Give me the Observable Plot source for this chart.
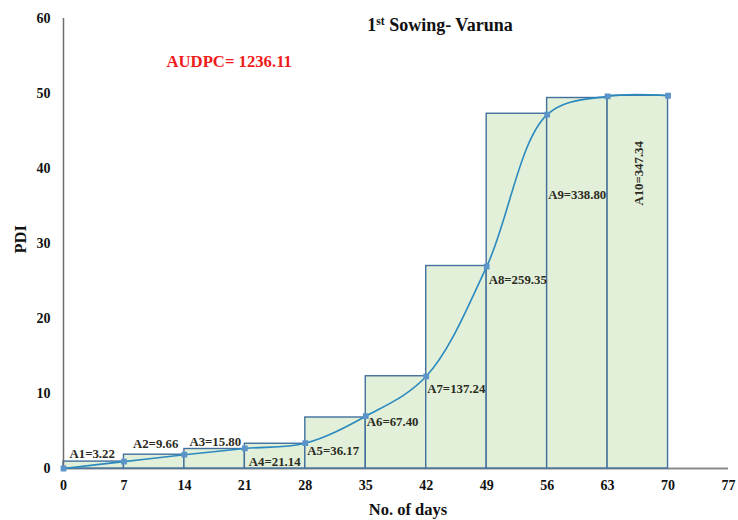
<!DOCTYPE html>
<html><head><meta charset="utf-8">
<script src="https://cdn.jsdelivr.net/npm/d3@7"></script>
<script src="https://cdn.jsdelivr.net/npm/@observablehq/plot@0.6"></script>
<style>body{margin:0;background:#fff}</style>
</head><body><div id="chart"></div>
<script>
// ---- data ----
const days = [0, 7, 14, 21, 28, 35, 42, 49, 56, 63, 70];
const pdi = [0, 0.92, 1.84, 2.67, 3.37, 6.97, 12.29, 26.92, 47.18, 49.62, 49.70];
const barTops = [0.92, 1.84, 2.6, 3.3, 6.8, 12.3, 27.0, 47.3, 49.4, 49.7];
const areaLabels = ["A1=3.22", "A2=9.66", "A3=15.80", "A4=21.14", "A5=36.17",
  "A6=67.40", "A7=137.24", "A8=259.35", "A9=338.80", "A10=347.34"];
const xTicks = [0, 7, 14, 21, 28, 35, 42, 49, 56, 63, 70, 77];
const yTicks = [0, 10, 20, 30, 40, 50, 60];
const titleText = ["1", "st", " Sowing- Varuna"];
const audpcText = "AUDPC= 1236.11";
const xLabel = "No. of days";
const yLabel = "PDI";

// ---- build tables ----
const bars = barTops.map((v, i) => ({x1: days[i], x2: days[i + 1], top: v}));
const points = days.map((d, i) => ({day: d, pdi: pdi[i]}));

// label placement (pixel offsets from the left point of each interval)
const labelStyle = [
  {dx: 6, dy: -15}, {dx: 9, dy: -18}, {dx: 5, dy: -13}, {dx: 4, dy: 13},
  {dx: 2, dy: 8}, {dx: 1, dy: 6}, {dx: 1, dy: 13}, {dx: 2, dy: 13},
  {dx: 1, dy: 80}, {dx: 31, dy: 77, rotate: -90, anchor: "middle"}
];

const serif = "'Liberation Serif', 'Times New Roman', serif";
const labelMarks = areaLabels.map((t, i) => {
  const s = labelStyle[i];
  return Plot.text([{day: days[i], pdi: pdi[i], t}], {
    x: "day", y: "pdi", text: "t",
    dx: s.dx, dy: s.dy, rotate: s.rotate || 0,
    textAnchor: s.anchor || "start", lineAnchor: "middle",
    fontSize: 12.8, fontWeight: "bold", fill: "#2b2b22", fontFamily: serif
  });
});

const chart = Plot.plot({
  width: 738, height: 520,
  marginLeft: 63, marginRight: 10, marginTop: 18, marginBottom: 52,
  style: {fontFamily: serif, fontWeight: "bold", fontSize: "14px", color: "#111", background: "#fff"},
  x: {domain: [0, 77]},
  y: {domain: [0, 60]},
  marks: [
    Plot.ruleY([0], {x1: 0, x2: 77, stroke: "#8a8a8a", strokeWidth: 2}),
    Plot.rect(bars, {x1: "x1", x2: "x2", y1: 0, y2: "top", fill: "#e2efd9", stroke: "#41719c", strokeWidth: 1.4}),
    Plot.ruleX([0], {y1: 0, y2: 60, stroke: "#6d6d6d", strokeWidth: 1.5}),
    Plot.line(points, {x: "day", y: "pdi", curve: "catmull-rom", stroke: "#2a8abf", strokeWidth: 1.6}),
    Plot.dot(points, {x: "day", y: "pdi", symbol: "square", r: 2.4, fill: "#5b94c8", stroke: "#5b94c8"}),
    Plot.axisX({ticks: xTicks, tickSize: 0, tickPadding: 12, label: null, fontSize: 14, fontWeight: "bold", fill: "#111"}),
    Plot.axisY({ticks: yTicks, tickSize: 0, tickPadding: 13, label: null, fontSize: 14, fontWeight: "bold", fill: "#111"}),
    ...labelMarks,
    Plot.text([audpcText], {frameAnchor: "top-left", dx: 103, dy: 43, textAnchor: "start", lineAnchor: "middle",
      fontSize: 16.7, fontWeight: "bold", fill: "#f01c1c"}),
    Plot.text([xLabel], {frameAnchor: "bottom", dx: 12, dy: 41, lineAnchor: "middle", fontSize: 16.5, fontWeight: "bold", fill: "#111"}),
    Plot.text([yLabel], {frameAnchor: "left", dx: -43, dy: 10, rotate: -90, lineAnchor: "middle", fontSize: 16.5, fontWeight: "bold", fill: "#111"})
  ]
});

// title with superscript
const svg = d3.select(chart);
const title = svg.append("text")
  .attr("x", 440).attr("y", 31)
  .attr("text-anchor", "middle")
  .attr("font-family", serif).attr("font-weight", "bold")
  .attr("font-size", 18).attr("fill", "#111");
title.append("tspan").text(titleText[0]);
title.append("tspan").attr("font-size", 11.5).attr("dy", -6).text(titleText[1]);
title.append("tspan").attr("dy", 6).text(titleText[2]);

document.getElementById("chart").appendChild(chart);
</script>
</body></html>
